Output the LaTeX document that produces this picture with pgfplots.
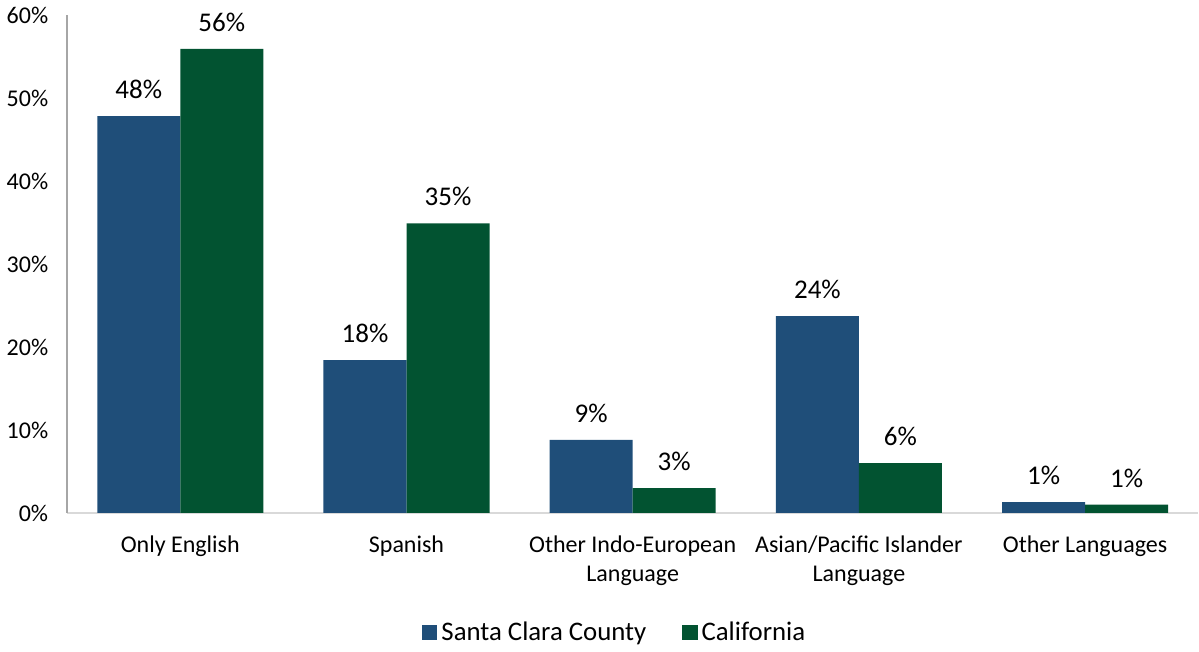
\documentclass[border=0pt]{standalone}
\usepackage{pgfplots}
\pgfplotsset{compat=1.18}
\usepackage{fontspec}
\setmainfont{Carlito}
\definecolor{scblue}{RGB}{31,78,121}
\definecolor{cagreen}{RGB}{2,83,49}
\begin{document}
\begin{tikzpicture}
\begin{axis}[
  scale only axis,
  width=565.5pt, height=249pt,
  ybar=0pt,
  bar width=0.367,
  xmin=-0.5, xmax=4.5,
  ymin=0, ymax=60,
  ytick={0,10,...,60},
  xtick=data,
  xticklabels={Only English,Spanish,{Other Indo-European\\Language},{Asian/Pacific Islander\\Language},Other Languages},
  xticklabel style={align=center, font=\fontsize{12}{14.5}\selectfont, yshift=-8pt},
  yticklabel={\pgfmathprintnumber{\tick}\%},
  yticklabel style={font=\fontsize{12}{14.5}\selectfont, xshift=-6pt},
  /pgf/number format/assume math mode=true,
  major tick length=0pt,
  axis lines*=left,
  x axis line style={draw={rgb,255:red,217;green,217;blue,217}, line width=0.8pt},
  y axis line style={draw={rgb,255:red,166;green,166;blue,166}, line width=0.8pt},
  nodes near coords={\pgfmathprintnumber[fixed,precision=0]{\pgfplotspointmeta}\%},
  every node near coord/.append style={font=\fontsize{13.5}{16}\selectfont, black, yshift=5pt},
  legend style={at={(0.485,-0.24)}, anchor=center, draw=none, legend columns=2,
    font=\fontsize{13.4}{16}\selectfont,
    /tikz/every even column/.append style={column sep=16pt}},
  legend image code/.code={\fill[#1] (0pt,-3.8pt) rectangle (7.6pt,3.8pt);},
  clip=false,
]
\addplot[fill=scblue, draw=none] coordinates {(0,47.8) (1,18.4) (2,8.8) (3,23.7) (4,1.3)};
\addplot[fill=cagreen, draw=none] coordinates {(0,55.9) (1,34.9) (2,3.0) (3,6.0) (4,1.0)};
\legend{Santa Clara County, California}
\end{axis}
\end{tikzpicture}
\end{document}
